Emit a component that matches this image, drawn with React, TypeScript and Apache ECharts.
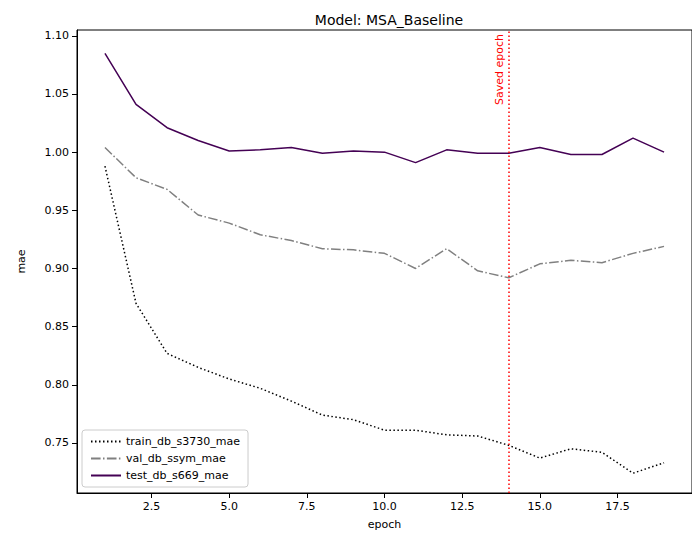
import React, { useEffect, useRef } from "react";
import * as echarts from "echarts";

const epochs = [1,2,3,4,5,6,7,8,9,10,11,12,13,14,15,16,17,18,19];
const trainMae = [0.988,0.870,0.827,0.815,0.805,0.797,0.786,0.774,0.770,0.761,0.761,0.757,0.756,0.748,0.737,0.745,0.742,0.724,0.733];
const valMae = [1.004,0.978,0.968,0.946,0.939,0.929,0.924,0.917,0.916,0.913,0.900,0.917,0.898,0.892,0.904,0.907,0.905,0.913,0.919];
const testMae = [1.085,1.041,1.021,1.010,1.001,1.002,1.004,0.999,1.001,1.000,0.991,1.002,0.999,0.999,1.004,0.998,0.998,1.012,1.000];
const xTicks = [2.5,5,7.5,10,12.5,15,17.5];
const yTicks = [0.75,0.8,0.85,0.9,0.95,1.0,1.05,1.1];
const savedEpoch = 14;

export default function App() {
  const ref = useRef<HTMLDivElement>(null);
  useEffect(() => {
    const chart = echarts.init(ref.current!, null, { renderer: "svg" });
    const font = "DejaVu Sans";
    const mk = (arr: number[]) => epochs.map((e, i) => [e, arr[i]]);
    chart.setOption({
      animation: false,
      textStyle: { fontFamily: font },
      title: { text: "Model: MSA_Baseline", left: 376, top: 0, textAlign: "center", textStyle: { fontSize: 14, fontWeight: "normal", color: "#000", fontFamily: font } },
      grid: { left: 69, right: 8, top: 22, bottom: 54, show: true, borderColor: "#000", borderWidth: 1 },
      xAxis: {
        type: "value", min: 0.1, max: 19.9, name: "epoch", nameLocation: "middle", nameGap: 26,
        nameTextStyle: { color: "#000", fontSize: 11 },
        axisLine: { lineStyle: { color: "#000" } },
        axisTick: { show: true, customValues: xTicks, lineStyle: { color: "#000" } },
        axisLabel: { customValues: xTicks, color: "#000", fontSize: 11, formatter: (v: number) => v.toFixed(1) },
        splitLine: { show: false },
      },
      yAxis: {
        type: "value", min: 0.707, max: 1.105, name: "mae", nameLocation: "middle", nameGap: 50,
        nameTextStyle: { color: "#000", fontSize: 11 },
        axisLine: { show: true, lineStyle: { color: "#000" } },
        axisTick: { show: true, customValues: yTicks, lineStyle: { color: "#000" } },
        axisLabel: { customValues: yTicks, color: "#000", fontSize: 11, formatter: (v: number) => v.toFixed(2) },
        splitLine: { show: false },
      },
      legend: {
        orient: "vertical", left: 74, bottom: 60, itemWidth: 30, itemHeight: 10, itemGap: 6,
        borderColor: "#ccc", borderWidth: 1, borderRadius: 3, padding: [6, 8], backgroundColor: "#fff",
        itemStyle: { opacity: 0 },
        textStyle: { color: "#000", fontSize: 11 },
        data: ["train_db_s3730_mae", "val_db_ssym_mae", "test_db_s669_mae"],
      },
      series: [
        { name: "train_db_s3730_mae", type: "line", data: mk(trainMae), showSymbol: false, symbol: "none", color: "#000",
          lineStyle: { color: "#000", width: 1.5, type: [1.5, 2.5] } },
        { name: "val_db_ssym_mae", type: "line", data: mk(valMae), showSymbol: false, symbol: "none", color: "#808080",
          lineStyle: { color: "#808080", width: 1.5, type: [9.6, 2.4, 1.5, 2.4] } },
        { name: "test_db_s669_mae", type: "line", data: mk(testMae), showSymbol: false, symbol: "none", color: "#440154",
          lineStyle: { color: "#440154", width: 1.5 },
          markLine: {
            symbol: "none", silent: true,
            lineStyle: { color: "red", type: [1.5, 2.5], width: 1.5 },
            label: { show: true, formatter: "Saved epoch", position: "insideEndTop", color: "red", fontSize: 11, distance: 4 },
            data: [{ xAxis: savedEpoch }],
          } },
      ],
    });
    return () => chart.dispose();
  }, []);
  return <div ref={ref} style={{ width: 692, height: 539 }} />;
}
